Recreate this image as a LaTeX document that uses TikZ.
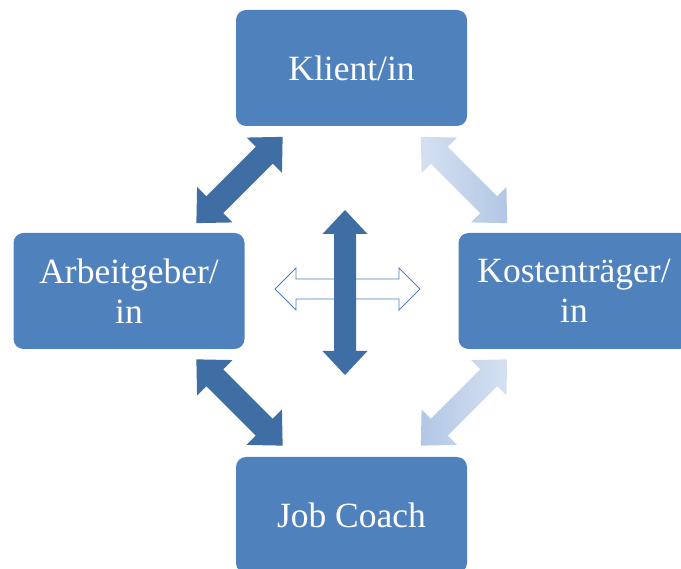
\documentclass[tikz,border=0pt]{standalone}
\usepackage{fontspec}
\setmainfont{Liberation Serif}
\definecolor{boxblue}{HTML}{4F81BD}
\definecolor{darkarr}{HTML}{3E6EA3}
\definecolor{lightA}{HTML}{D5E1F1}
\definecolor{lightB}{HTML}{B2C7E5}
\newcommand\dblarr[8]{% cx, cy, angle, half-length, shaft half-width, head half-width, head length, style
  \begin{scope}[shift={(#1,#2)},rotate=#3]
    \path[#8] (-#4,0) -- (-#4+#7,#6) -- (-#4+#7,#5) -- (#4-#7,#5) -- (#4-#7,#6) -- (#4,0)
      -- (#4-#7,-#6) -- (#4-#7,-#5) -- (-#4+#7,-#5) -- (-#4+#7,-#6) -- cycle;
  \end{scope}}
\tikzset{
  box/.style={draw=none, fill=boxblue, rounded corners=10pt, minimum width=231pt, minimum height=116pt,
    text=white, align=center, font=\fontsize{35.5}{40}\selectfont, inner sep=0pt},
  darkfill/.style={fill=darkarr},
}
\begin{document}
\begin{tikzpicture}[x=1pt,y=-1pt]
\useasboundingbox (0,0) rectangle (681,569);
\clip (0,0) rectangle (681,569);
\fill[white] (0,0) rectangle (681,569);
% boxes
\node[box] (klient) at (351.5,68) {Klient/in};
\node[box] (arbeit) at (129,291) {Arbeitgeber/\\in};
\node[box] (kosten) at (574,291) {Kostenträger/\\in};
\node[box] (coach) at (351.5,515) {Job Coach};
% diagonal arrows
\dblarr{239.5}{180}{45}{61}{12}{25}{26}{darkfill}
\dblarr{239.5}{402.5}{-45}{61}{12}{25}{26}{darkfill}
\dblarr{464}{180}{-45}{61}{12}{25}{26}{left color=lightA,right color=lightB}
\dblarr{464}{402.5}{45}{61}{12}{25}{26}{left color=lightB,right color=lightA}
% centre cross
\dblarr{347.5}{289}{0}{72.5}{10}{21}{21}{fill=white,draw=boxblue,line width=0.8pt}
\dblarr{345}{292.5}{90}{82.5}{11}{22.5}{24}{darkfill}
\end{tikzpicture}
\end{document}
